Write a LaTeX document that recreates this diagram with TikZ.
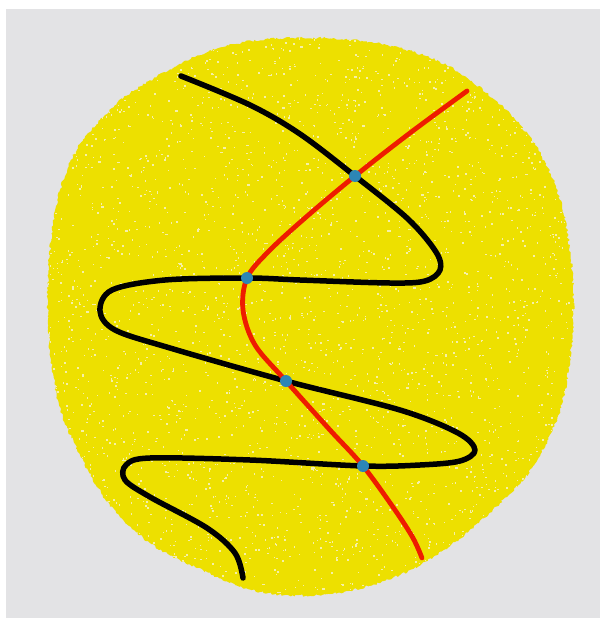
\documentclass[tikz,border=0pt]{standalone}
\usetikzlibrary{decorations.pathmorphing}
\definecolor{bggray}{HTML}{E3E3E5}
\definecolor{blobyellow}{HTML}{EDE000}
\definecolor{speck}{HTML}{F6F0A8}
\definecolor{curvered}{HTML}{EE1C00}
\definecolor{dotblue}{HTML}{2D86B5}
\tikzset{
  blackcurve/.style={line width=5.5pt, black, line cap=round, line join=round},
  redcurve/.style={line width=4.8pt, curvered, line cap=round, line join=round},
  crossdot/.style={circle, fill=dotblue, inner sep=0pt, minimum size=12pt},
  rough/.style={decorate, decoration={random steps, segment length=2pt, amplitude=1.2pt}},
}
\begin{document}
\begin{tikzpicture}[x=1pt,y=-1pt]
\useasboundingbox (0,0) rectangle (605,621);
\fill[white] (0,0) rectangle (605,621);
\fill[bggray] (6,9) rectangle (600,618);
\def\blobpath{plot[smooth cycle, tension=0.6] coordinates {
 (300,38) (370,42) (440,62) (495,100) (535,145) (560,200) (572,270) (572,340)
 (560,410) (532,468) (500,503) (455,542) (400,575) (330,594) (260,592)
 (195,567) (150,543) (110,505) (80,455) (58,400) (48,320) (52,230) (70,162)
 (100,120) (135,90) (195,57) (245,42)}}
\pgfmathsetseed{7}
\fill[blobyellow, rough] \blobpath;
\begin{scope}
\clip \blobpath;
\pgfmathsetseed{42}
\foreach \i in {1,...,3200} {
  \fill[speck] ({rnd*540+40},{rnd*570+32}) rectangle +({0.8+rnd*1.4},{0.8+rnd*1.2});
}
\end{scope}
% intersection points
\coordinate (p1) at (355,176);
\coordinate (p2) at (247,278);
\coordinate (p3) at (286,381);
\coordinate (p4) at (363,466);
% black curve
\draw[blackcurve] plot[smooth, tension=0.55] coordinates {
 (181,76) (250,105) (300,134) (p1) (408,219) (436,252) (440,270) (425,281) (390,283)
 (300,280) (p2) (165,280) (112,290) (100,311) (115,330) (170,348) (p3)
 (400,410) (458,433) (475,450) (460,461) (420,465) (p4) (250,460) (150,458)
 (126,465) (125,480) (150,497) (207,528) (235,553) (243,578)};
% red curve
\draw[redcurve] plot[smooth, tension=0.55] coordinates {
 (467,91) (410,133) (p1) (305,218) (268,252) (p2) (243,310) (255,345) (p3)
 (330,430) (p4) (395,510) (413,538) (422,558)};
\node[crossdot] (d1) at (p1) {};
\node[crossdot] (d2) at (p2) {};
\node[crossdot] (d3) at (p3) {};
\node[crossdot] (d4) at (p4) {};
\end{tikzpicture}
\end{document}
